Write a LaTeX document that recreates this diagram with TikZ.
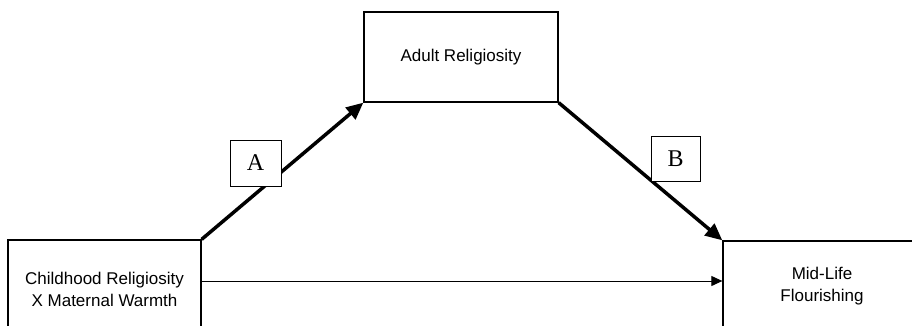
\documentclass[tikz,border=0pt]{standalone}
\usepackage{fontspec}
\setmainfont{Liberation Serif}
\setsansfont{Liberation Sans}
\usetikzlibrary{arrows.meta}
\begin{document}
\begin{tikzpicture}[x=1pt,y=-1pt,
  box/.style={draw, line width=1.3pt, inner sep=0pt, align=center,
    font=\sffamily\fontsize{17}{22}\selectfont},
  lbl/.style={draw, fill=white, line width=0.8pt, inner sep=0pt,
    font=\rmfamily\fontsize{24}{28}\selectfont},
  thickarrow/.style={line width=3.5pt, -{Triangle[length=17pt,width=15pt]}},
  thinarrow/.style={line width=1pt, -{Triangle[length=11pt,width=10pt]}}]
\clip (0,0) rectangle (912,326);
\fill[white] (0,0) rectangle (912,326);
\node[box, minimum width=193pt, minimum height=98pt] (child) at (104.5,289)
  {Childhood Religiosity\\X Maternal Warmth};
\node[box, minimum width=194pt, minimum height=90pt] (adult) at (461,57)
  {Adult Religiosity};
\node[box, minimum width=198pt, minimum height=90pt] (flour) at (822,286)
  {Mid-Life\\Flourishing};
\draw[thickarrow] (child.north east) -- (adult.south west);
\draw[thickarrow] (adult.south east) -- (flour.north west);
\draw[thinarrow] (child.east |- 0,281) coordinate (hs) -- (flour.west |- hs);
\node[lbl, minimum width=51pt, minimum height=46pt] (A) at (255.5,163) {A};
\node[lbl, minimum width=49pt, minimum height=45pt] (B) at (675.5,158.5) {B};
\end{tikzpicture}
\end{document}
